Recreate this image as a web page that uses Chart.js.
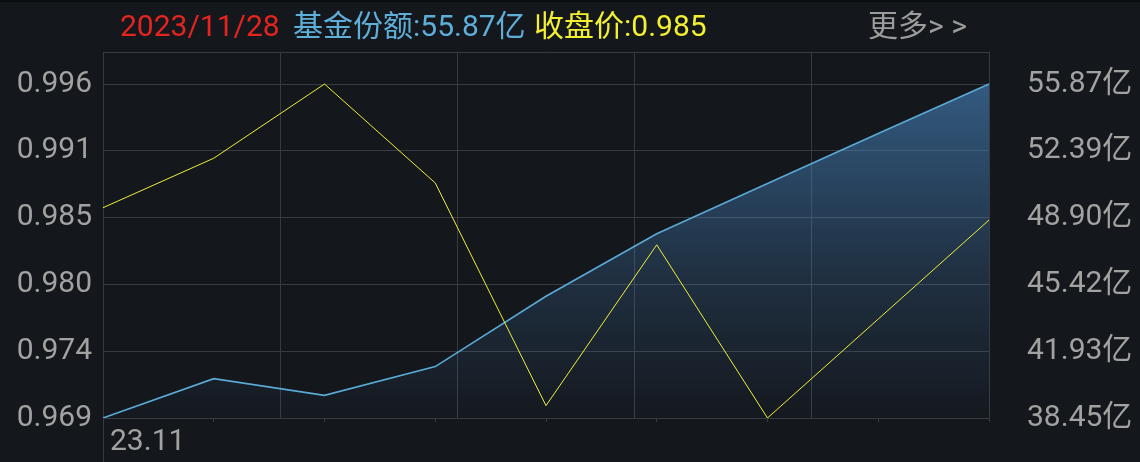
<!DOCTYPE html>
<html>
<head>
<meta charset="utf-8">
<script src="https://cdn.jsdelivr.net/npm/chart.js@4/dist/chart.umd.min.js"></script>
<style>
    html, body { margin: 0; padding: 0; background: #14171c; }
    #wrap { position: relative; width: 1140px; height: 462px; }
    #chart { position: absolute; left: 0; top: 0; }
    #band { position: absolute; left: 0; top: 0; width: 1140px; height: 2px; background: #0c0d10; }
    .head { position: absolute; top: 10px; font-family: Roboto, "Noto Sans CJK SC", sans-serif; font-size: 30px; line-height: 32px; white-space: nowrap; }
</style>
</head>
<body>
<div id="wrap">
    <canvas id="chart" width="1140" height="462"></canvas>
    <div id="band"></div>
    <div class="head" style="left:120px;color:#e3241f">2023/11/28</div>
    <div class="head" style="left:293px;color:#5eaed9">基金份额:55.87亿</div>
    <div class="head" style="left:534px;color:#f2f031">收盘价:0.985</div>
    <div class="head" style="left:868px;color:#9c9c9c">更多&gt; &gt;</div>
</div>
<script>
// Data
const dates = ['23.11', '', '', '', '', '', '', '', ''];
const fundShares = [38.45, 40.50, 39.63, 41.13, 44.80, 48.06, 50.68, 53.29, 55.87];
const closePrice = [0.986, 0.990, 0.996, 0.988, 0.970, 0.983, 0.969, 0.977, 0.985];

const gridColor = '#383c42';
const labelColor = '#a2a2a2';
const labelFont = { family: 'Roboto, "Noto Sans CJK SC", sans-serif', size: 30 };

// chart area is a bit taller than the data range (space above the top tick)
const headroom = 366 / 334;

const priceMin = Math.min(...closePrice);
const priceMax = Math.max(...closePrice);
const shareMin = Math.min(...fundShares);
const shareMax = Math.max(...fundShares);

function evenTicks(min, max, n) {
    const out = [];
    for (let i = 0; i < n; i++) out.push({ value: min + (max - min) * i / (n - 1) });
    return out;
}

// fixed axis sizes, no extra padding for half labels
function fixSize(w, h) {
    return function (axis) {
        if (w !== null) axis.width = w;
        if (h !== null) axis.height = h;
        axis.paddingTop = 0;
        axis.paddingBottom = 0;
        axis.paddingLeft = 0;
        axis.paddingRight = 0;
    };
}

// left border runs down to the bottom of the picture
const leftLine = {
    id: 'leftLine',
    afterDraw(chart) {
        const { ctx, chartArea } = chart;
        ctx.save();
        ctx.strokeStyle = gridColor;
        ctx.lineWidth = 1;
        ctx.beginPath();
        ctx.moveTo(Math.round(chartArea.left) + 0.5, chartArea.bottom);
        ctx.lineTo(Math.round(chartArea.left) + 0.5, chart.height);
        ctx.stroke();
        ctx.restore();
    }
};

const ctx = document.getElementById('chart').getContext('2d');
new Chart(ctx, {
    type: 'line',
    data: {
        labels: dates,
        datasets: [{
            label: '收盘价',
            data: closePrice,
            yAxisID: 'yL',
            borderColor: '#f0ee3a',
            borderWidth: 1,
            pointRadius: 0,
            tension: 0,
            fill: false
        }, {
            label: '基金份额',
            data: fundShares,
            yAxisID: 'yR',
            borderColor: '#5aaad6',
            borderWidth: 1.6,
            pointRadius: 0,
            tension: 0,
            fill: 'start',
            backgroundColor: function (context) {
                const chart = context.chart;
                const area = chart.chartArea;
                if (!area) return 'rgba(0,0,0,0)';
                const top = chart.scales.yR.getPixelForValue(shareMax);
                const g = chart.ctx.createLinearGradient(0, top, 0, area.bottom);
                g.addColorStop(0, 'rgba(72,135,195,0.6)');
                g.addColorStop(0.55, 'rgba(72,135,195,0.24)');
                g.addColorStop(1, 'rgba(72,135,195,0.02)');
                return g;
            }
        }]
    },
    options: {
        responsive: false,
        animation: false,
        layout: { padding: { top: 52, left: 0, right: 0, bottom: 0 } },
        plugins: {
            legend: { display: false },
            tooltip: { enabled: false }
        },
        scales: {
            x: {
                type: 'category',
                offset: false,
                grid: { display: true, drawOnChartArea: false, color: gridColor, tickLength: 4 },
                border: { display: true, color: gridColor },
                ticks: {
                    autoSkip: false,
                    maxRotation: 0,
                    align: 'start',
                    labelOffset: 7,
                    padding: 2,
                    color: labelColor,
                    font: labelFont
                },
                afterFit: fixSize(null, 44)
            },
            xg: {
                type: 'linear',
                position: 'top',
                min: 0,
                max: dates.length - 1,
                afterBuildTicks(axis) { axis.ticks = evenTicks(0, dates.length - 1, 6); },
                grid: { color: gridColor, drawTicks: false },
                border: { display: true, color: gridColor },
                ticks: { display: false },
                afterFit: fixSize(null, 0)
            },
            yL: {
                position: 'left',
                min: priceMin,
                max: priceMin + (priceMax - priceMin) * headroom,
                afterBuildTicks(axis) { axis.ticks = evenTicks(priceMin, priceMax, 6); },
                grid: { color: gridColor, drawTicks: false },
                border: { display: false },
                ticks: {
                    color: labelColor,
                    font: labelFont,
                    padding: 11,
                    callback: v => v.toFixed(3)
                },
                afterFit: fixSize(103, null)
            },
            yR: {
                position: 'right',
                min: shareMin,
                max: shareMin + (shareMax - shareMin) * headroom,
                afterBuildTicks(axis) { axis.ticks = evenTicks(shareMin, shareMax, 6); },
                grid: { drawOnChartArea: false, drawTicks: false },
                border: { display: false },
                ticks: {
                    color: labelColor,
                    font: labelFont,
                    padding: 38,
                    callback: v => v.toFixed(2) + '亿'
                },
                afterFit: fixSize(151, null)
            }
        }
    },
    plugins: [leftLine]
});
</script>
</body>
</html>
